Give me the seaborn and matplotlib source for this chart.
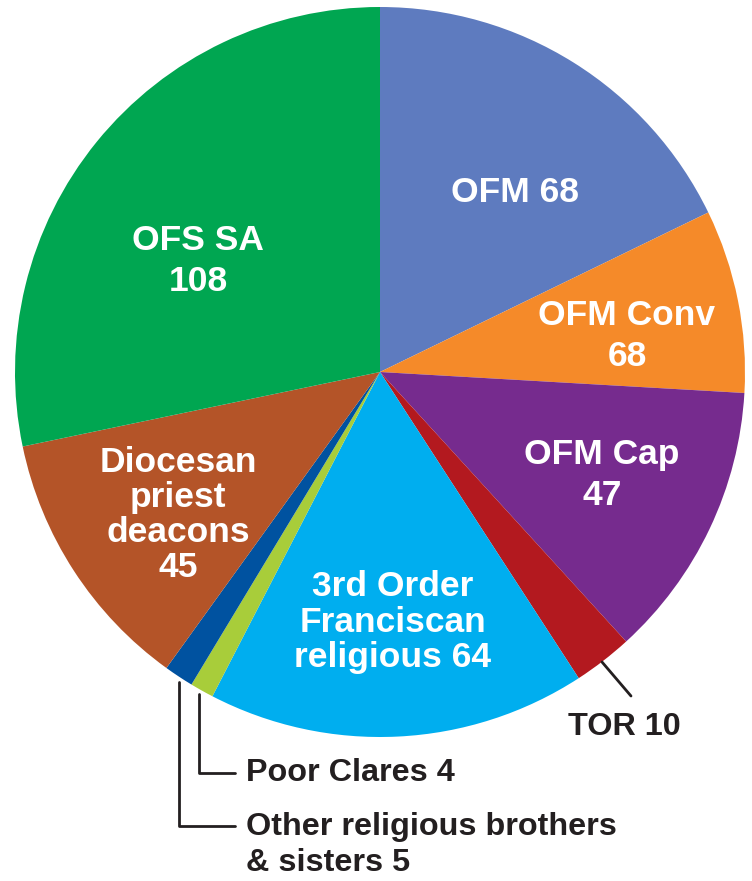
import matplotlib
matplotlib.use("Agg")
import matplotlib.pyplot as plt
import seaborn as sns

categories = ["OFM", "OFM Conv", "OFM Cap", "TOR", "3rd Order Franciscan religious",
              "Poor Clares", "Other religious brothers & sisters",
              "Diocesan priest deacons", "OFS SA"]
slice_values = [68, 31, 47, 10, 64, 4, 5, 45, 108]
label_texts = ["OFM 68", "OFM Conv\n68", "OFM Cap\n47", "TOR 10",
               "3rd Order\nFranciscan\nreligious 64", "Poor Clares 4",
               "Other religious brothers\n& sisters 5",
               "Diocesan\npriest\ndeacons\n45", "OFS SA\n108"]
colors = ["#5e7bbf", "#f58a29", "#762b8e", "#b3191f", "#00aeef",
          "#a8cd3a", "#0052a0", "#b45428", "#00a651"]

sns.set_theme(style="white")
plt.rcParams['font.family'] = ['Liberation Sans', 'DejaVu Sans']

W, H = 752, 881
fig = plt.figure(figsize=(W / 100, H / 100), dpi=100)
ax = fig.add_axes([0, 0, 1, 1])
palette = sns.color_palette(colors)

cx, cy, R = 380, H - 372, 365
ax.pie(slice_values, colors=palette, startangle=90, counterclock=False,
       center=(cx, cy), radius=R, wedgeprops=dict(linewidth=0))
ax.set_xlim(0, W)
ax.set_ylim(0, H)
ax.set_aspect('equal')
ax.axis('off')

def Y(py):
    return H - py

white = dict(color="white", fontweight="bold", fontsize=25.5, ha="center",
             va="center")
# inner labels (pixel positions of text centres)
ax.text(515, Y(193), label_texts[0], **white)
ax.text(627, Y(336), label_texts[1], linespacing=1.3, **white)
ax.text(602, Y(475), label_texts[2], linespacing=1.3, **white)
ax.text(393, Y(622), label_texts[4], linespacing=1.1, **white)
ax.text(178, Y(515), label_texts[7], linespacing=1.08, **white)
ax.text(198, Y(261), label_texts[8], linespacing=1.32, **white)

dark = "#231f20"
outer = dict(color=dark, fontweight="bold", fontsize=23.3, va="center",
             ha="left", linespacing=1.22)
ax.text(568, Y(727), label_texts[3], **outer)
ax.text(246, Y(773), label_texts[5], **outer)
ax.text(246, Y(845), label_texts[6], **outer)

lw = 2
ax.plot([602, 631], [Y(662), Y(696)], color=dark, lw=lw)
ax.plot([199, 199, 235], [Y(694), Y(773), Y(773)], color=dark, lw=lw)
ax.plot([179, 179, 235], [Y(682), Y(826), Y(826)], color=dark, lw=lw)

fig.savefig("out.png", dpi=100, facecolor="white")
